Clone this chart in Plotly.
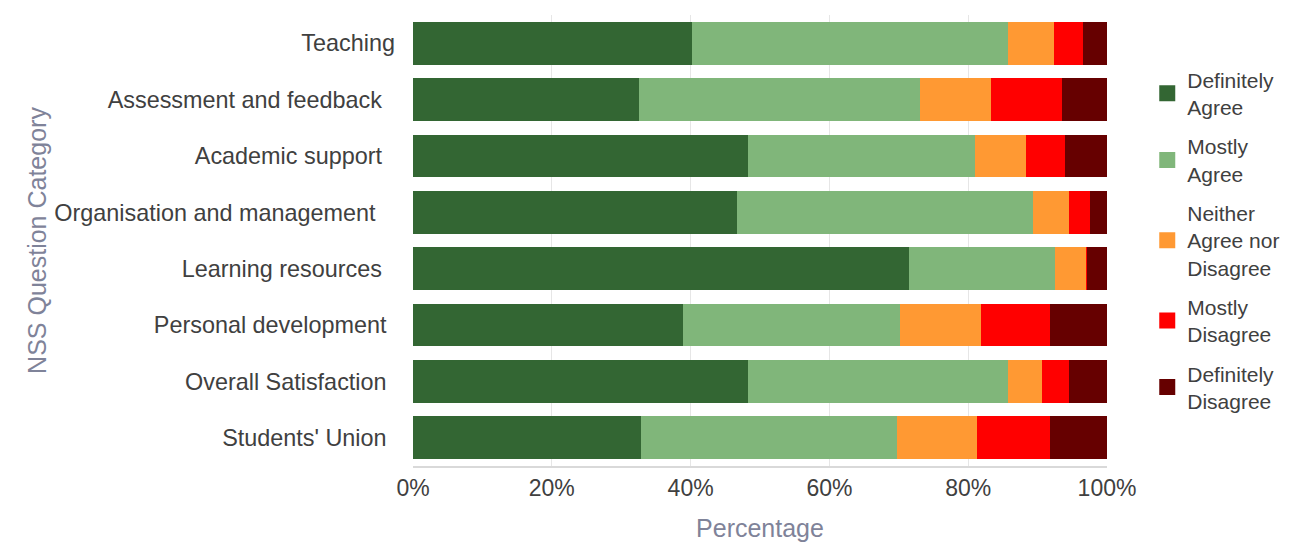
import plotly.graph_objects as go

categories = ["Teaching", "Assessment and feedback\u00a0\u00a0", "Academic support\u00a0\u00a0",
              "Organisation and management\u00a0\u00a0\u00a0", "Learning resources\u00a0\u00a0",
              "Personal development\u00a0\u200a", "Overall Satisfaction\u00a0\u200a",
              "Students' Union\u00a0\u200a"]

definitely_agree = [40.2, 32.5, 48.2, 46.7, 71.5, 38.9, 48.2, 32.9]
mostly_agree = [45.6, 40.5, 32.8, 42.6, 21.0, 31.3, 37.5, 36.9]
neither = [6.5, 10.3, 7.3, 5.2, 4.5, 11.7, 5.0, 11.4]
mostly_disagree = [4.3, 10.2, 5.6, 3.0, 0.1, 9.9, 3.8, 10.6]
definitely_disagree = [3.4, 6.5, 6.1, 2.5, 2.9, 8.2, 5.5, 8.2]

series = [
    ("Definitely<br>Agree", definitely_agree, "#336633"),
    ("Mostly<br>Agree", mostly_agree, "#80B67A"),
    ("Neither<br>Agree nor<br>Disagree", neither, "#FF9933"),
    ("Mostly<br>Disagree", mostly_disagree, "#FF0000"),
    ("Definitely<br>Disagree", definitely_disagree, "#660000"),
]

x_ticks = [0, 20, 40, 60, 80, 100]
x_tick_labels = ["0%", "20%", "40%", "60%", "80%", "100%"]

fig = go.Figure()
for i, (name, vals, col) in enumerate(series):
    fig.add_trace(go.Bar(y=categories, x=vals, name=name, orientation="h",
                         marker=dict(color=col, line=dict(width=0)),
                         legendgroup=str(i), showlegend=False))
for i, (name, vals, col) in enumerate(series):
    fig.add_trace(go.Scatter(x=[None], y=[None], mode="markers", name=name,
                             marker=dict(color=col, symbol="square", size=20),
                             legendgroup=str(i), showlegend=True, hoverinfo="skip"))

fig.update_layout(
    width=1284, height=538,
    barmode="stack", bargap=0.24,
    margin=dict(l=405, r=185, t=7, b=80),
    paper_bgcolor="white", plot_bgcolor="white",
    font=dict(family="Liberation Sans, Arial, sans-serif", size=23, color="#404040"),
    legend=dict(x=1.058, y=0.5, xanchor="left", yanchor="middle",
                font=dict(size=21, color="#404040"), tracegroupgap=9,
                itemsizing="trace"),
    showlegend=True,
)
fig.update_xaxes(range=[0, 100], tickmode="array", tickvals=x_ticks, ticktext=x_tick_labels,
                 automargin=False,
                 showgrid=True, gridcolor="#E6E6E6", gridwidth=1,
                 showline=True, linecolor="#D9D9D9", linewidth=2,
                 zeroline=False, ticks="",
                 tickfont=dict(size=23, color="#404040"),
                 title=dict(text="Percentage", font=dict(size=25, color="#7F8399"), standoff=20))
fig.update_yaxes(categoryorder="array", categoryarray=categories[::-1],
                 automargin=False,
                 showgrid=False, showline=False, ticks="",
                 ticklabelstandoff=17,
                 tickfont=dict(size=23.4, color="#404040"),
                 title=dict(text="NSS Question Category", font=dict(size=25, color="#7F8399"), standoff=0))

fig.write_html("out.html")
